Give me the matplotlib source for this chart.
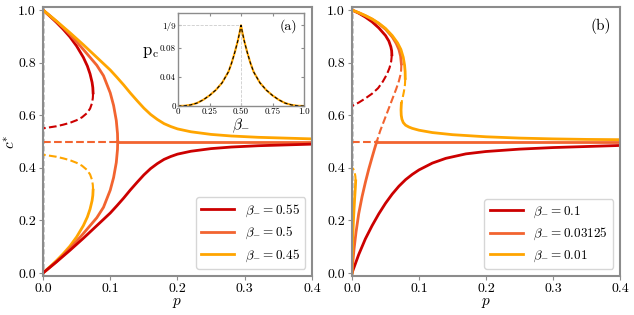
import numpy as np
import matplotlib
matplotlib.use('Agg')
import matplotlib.pyplot as plt

plt.rcParams['font.family'] = 'serif'
plt.rcParams['font.serif'] = ['cmr10', 'DejaVu Serif']
plt.rcParams['mathtext.fontset'] = 'cm'
plt.rcParams['axes.formatter.use_mathtext'] = True

# =============================
# colours
# =============================
RED = '#cc0000'
ORED = '#f26430'
ORANGE = '#ffa500'
GREY = '#8c8c8c'

# =============================
# panel (a) data
# =============================
# beta = 0.5 (pitchfork at p = 1/9)
a05_p = [0, 0.01, 0.02, 0.03, 0.04, 0.05, 0.06, 0.07, 0.08, 0.09, 0.1, 0.105, 0.109, 0.1108, 0.1111]
a05_up = [1.0, 0.979, 0.957, 0.933, 0.907, 0.879, 0.85, 0.82, 0.79, 0.75, 0.685, 0.637, 0.58, 0.53, 0.5]
a05_lo = [0.0, 0.021, 0.043, 0.067, 0.093, 0.121, 0.15, 0.18, 0.21, 0.25, 0.315, 0.363, 0.42, 0.47, 0.5]
a_pc = 0.1111

# beta = 0.55 upper branch (stable) and unstable branch
a55_up_p = [0, 0.01, 0.02, 0.03, 0.04, 0.05, 0.06, 0.066, 0.07, 0.073, 0.0741, 0.0745]
a55_up_c = [1.0, 0.977, 0.953, 0.927, 0.898, 0.863, 0.82, 0.787, 0.757, 0.725, 0.705, 0.685]
a55_un_p = [0.0745, 0.0741, 0.0728, 0.07, 0.065, 0.058, 0.05, 0.04, 0.03, 0.02, 0.01, 0]
a55_un_c = [0.685, 0.665, 0.645, 0.625, 0.607, 0.592, 0.581, 0.571, 0.564, 0.558, 0.554, 0.55]

# beta = 0.45 lower branch (stable) and unstable branch
a45_lo_p = [0, 0.01, 0.02, 0.03, 0.04, 0.05, 0.06, 0.066, 0.07, 0.073, 0.0741, 0.0745]
a45_lo_c = [0.0, 0.023, 0.047, 0.073, 0.102, 0.137, 0.18, 0.213, 0.243, 0.275, 0.295, 0.315]
a45_un_p = [0.0745, 0.0741, 0.0728, 0.07, 0.065, 0.058, 0.05, 0.04, 0.03, 0.02, 0.01, 0]
a45_un_c = [0.315, 0.335, 0.355, 0.375, 0.393, 0.408, 0.419, 0.429, 0.436, 0.442, 0.446, 0.45]

# smooth branches: beta = 0.55 from below, beta = 0.45 from above
a_sm_p = [0, 0.02, 0.04, 0.06, 0.08, 0.1, 0.11, 0.12, 0.13, 0.14, 0.15, 0.16, 0.17, 0.18, 0.19,
          0.2, 0.22, 0.25, 0.28, 0.32, 0.36, 0.4]
a55_sm_c = [0.0, 0.042, 0.086, 0.132, 0.18, 0.228, 0.256, 0.285, 0.316, 0.345, 0.373, 0.397, 0.416, 0.432, 0.443,
            0.452, 0.463, 0.473, 0.479, 0.484, 0.487, 0.49]
a45_sm_c = [1.0, 0.958, 0.914, 0.868, 0.82, 0.772, 0.744, 0.715, 0.684, 0.655, 0.627, 0.603, 0.584, 0.568, 0.557,
            0.548, 0.537, 0.527, 0.521, 0.516, 0.513, 0.51]

# =============================
# panel (b) data
# =============================
# beta = 0.1
b10_up_p = [0, 0.01, 0.02, 0.03, 0.04, 0.05, 0.055, 0.058, 0.0592, 0.0595]
b10_up_c = [1.0, 0.988, 0.973, 0.955, 0.932, 0.903, 0.882, 0.86, 0.845, 0.83]
b10_un_p = [0.0595, 0.0585, 0.056, 0.052, 0.046, 0.039, 0.03, 0.02, 0.01, 0]
b10_un_c = [0.83, 0.805, 0.78, 0.755, 0.728, 0.703, 0.682, 0.664, 0.648, 0.635]
b10_lo_p = [0, 0.01, 0.02, 0.03, 0.04, 0.05, 0.06, 0.07, 0.08, 0.09, 0.1, 0.12, 0.14, 0.17, 0.2,
            0.25, 0.3, 0.35, 0.4]
b10_lo_c = [0.0, 0.07, 0.13, 0.18, 0.225, 0.265, 0.3, 0.33, 0.355, 0.375, 0.392, 0.418, 0.436, 0.453, 0.462,
            0.471, 0.477, 0.481, 0.485]

# beta = 0.03125 (exchange of stability at p ~ 0.037)
b03_up_p = [0, 0.01, 0.02, 0.03, 0.04, 0.05, 0.06, 0.066, 0.07, 0.0725, 0.0737]
b03_up_c = [1.0, 0.99, 0.978, 0.965, 0.948, 0.927, 0.898, 0.873, 0.85, 0.825, 0.795]
b03_un_p = [0.0737, 0.0733, 0.072, 0.07, 0.066, 0.06, 0.054, 0.048, 0.042, 0.037]
b03_un_c = [0.795, 0.77, 0.75, 0.73, 0.70, 0.66, 0.62, 0.58, 0.54, 0.5]
b03_lo_p = [0, 0.001, 0.003, 0.006, 0.01, 0.015, 0.02, 0.025, 0.03, 0.034, 0.037]
b03_lo_c = [0.0, 0.035, 0.09, 0.155, 0.225, 0.29, 0.345, 0.395, 0.44, 0.475, 0.5]
b_pt = 0.037

# beta = 0.01
b01_up_p = [0, 0.01, 0.02, 0.03, 0.04, 0.05, 0.06, 0.068, 0.073, 0.0765, 0.0785, 0.0793, 0.0795]
b01_up_c = [1.0, 0.99, 0.979, 0.966, 0.95, 0.93, 0.903, 0.875, 0.85, 0.82, 0.79, 0.765, 0.74]
b01_un_p = [0.0795, 0.079, 0.0775, 0.0755, 0.0737]
b01_un_c = [0.74, 0.715, 0.69, 0.665, 0.645]
b01_mid_p = [0.0737, 0.0732, 0.0735, 0.0745, 0.0765, 0.08, 0.085, 0.09, 0.1, 0.12, 0.15, 0.2, 0.25, 0.3, 0.35, 0.4]
b01_mid_c = [0.645, 0.62, 0.6, 0.585, 0.572, 0.562, 0.555, 0.55, 0.543, 0.534, 0.526, 0.518, 0.513, 0.51, 0.508, 0.507]
b01_lo_p = [0, 0.0003, 0.001, 0.002, 0.003, 0.004, 0.005, 0.0055]
b01_lo_c = [0.0, 0.05, 0.12, 0.19, 0.24, 0.285, 0.325, 0.35]
b01_lu_p = [0.0055, 0.005, 0.004, 0.003, 0.002, 0.001, 0]
b01_lu_c = [0.35, 0.368, 0.382, 0.39, 0.395, 0.398, 0.4]

# =============================
# inset data: p_c(beta_-)
# =============================
ins_beta = [0, 0.05, 0.1, 0.15, 0.2, 0.25, 0.3, 0.35, 0.4, 0.425, 0.45, 0.475, 0.49, 0.5,
            0.51, 0.525, 0.55, 0.575, 0.6, 0.65, 0.7, 0.75, 0.8, 0.85, 0.9, 0.95, 1.0]
ins_pc = [0, 0.0003, 0.0015, 0.004, 0.0085, 0.0145, 0.022, 0.032, 0.047, 0.059, 0.0735, 0.09, 0.102, 0.1111,
          0.102, 0.09, 0.0735, 0.059, 0.047, 0.032, 0.022, 0.0145, 0.0085, 0.004, 0.0015, 0.0003, 0]

xticks = [0.0, 0.1, 0.2, 0.3, 0.4]
yticks = [0.0, 0.2, 0.4, 0.6, 0.8, 1.0]

LW = 2.0
LWD = 1.5

fig = plt.figure(figsize=(6.34, 3.15), dpi=100)
axa = fig.add_axes([0.0678, 0.125, 0.4243, 0.8515])
axb = fig.add_axes([0.5552, 0.125, 0.4227, 0.8515])


def style(ax):
    ax.set_xlim(0, 0.4)
    ax.set_ylim(-0.01, 1.01)
    ax.set_xticks(xticks)
    ax.set_yticks(yticks)
    ax.set_xticklabels([f'{v:.1f}' for v in xticks])
    ax.set_yticklabels([f'{v:.1f}' for v in yticks])
    ax.tick_params(labelsize=10, color=GREY, length=3, pad=2)
    for s in ax.spines.values():
        s.set_color(GREY)
        s.set_linewidth(1.5)
    ax.set_xlabel('$p$', fontsize=11, labelpad=1)
    ax.axvline(0, color='k', ls='--', lw=1, zorder=1)


def legend(ax, handles):
    ax.legend(handles=handles, loc='lower right', fontsize=9.5, handlelength=2.5,
              borderaxespad=0.5, labelspacing=0.45, handletextpad=0.8)


# ---- panel (a)
axa.plot([0, a_pc], [0.5, 0.5], '--', color=ORED, lw=LWD)
axa.plot([a_pc, 0.4], [0.5, 0.5], '-', color=ORED, lw=LW)
axa.plot(a55_up_p, a55_up_c, '-', color=RED, lw=LW)
axa.plot(a55_un_p, a55_un_c, '--', color=RED, lw=LWD)
axa.plot(a45_lo_p, a45_lo_c, '-', color=ORANGE, lw=LW)
axa.plot(a45_un_p, a45_un_c, '--', color=ORANGE, lw=LWD)
axa.plot(a05_p, a05_up, '-', color=ORED, lw=LW)
axa.plot(a05_p, a05_lo, '-', color=ORED, lw=LW)
axa.plot(a_sm_p, a45_sm_c, '-', color=ORANGE, lw=LW)
axa.plot(a_sm_p, a55_sm_c, '-', color=RED, lw=LW)
style(axa)
axa.set_ylabel('$c^{*}$', fontsize=11, labelpad=0)

h1, = axa.plot([], [], color=RED, lw=LW, label=r'$\beta_{-}=0.55$')
h2, = axa.plot([], [], color=ORED, lw=LW, label=r'$\beta_{-}=0.5$')
h3, = axa.plot([], [], color=ORANGE, lw=LW, label=r'$\beta_{-}=0.45$')
legend(axa, [h1, h2, h3])

# ---- panel (b)
axb.plot([0, b_pt], [0.5, 0.5], '--', color=ORED, lw=LWD)
axb.plot([b_pt, 0.4], [0.5, 0.5], '-', color=ORED, lw=LW)
axb.plot(b10_up_p, b10_up_c, '-', color=RED, lw=LW)
axb.plot(b10_un_p, b10_un_c, '--', color=RED, lw=LWD)
axb.plot(b10_lo_p, b10_lo_c, '-', color=RED, lw=LW)
axb.plot(b03_up_p, b03_up_c, '-', color=ORED, lw=LW)
axb.plot(b03_un_p, b03_un_c, '--', color=ORED, lw=LWD)
axb.plot(b03_lo_p, b03_lo_c, '-', color=ORED, lw=LW)
axb.plot(b01_up_p, b01_up_c, '-', color=ORANGE, lw=LW)
axb.plot(b01_un_p, b01_un_c, '--', color=ORANGE, lw=LWD)
axb.plot(b01_mid_p, b01_mid_c, '-', color=ORANGE, lw=LW)
axb.plot(b01_lo_p, b01_lo_c, '-', color=ORANGE, lw=LW)
axb.plot(b01_lu_p, b01_lu_c, '--', color=ORANGE, lw=LWD)
style(axb)
axb.text(0.93, 0.93, '(b)', transform=axb.transAxes, fontsize=11, ha='center', va='center')

g1, = axb.plot([], [], color=RED, lw=LW, label=r'$\beta_{-}=0.1$')
g2, = axb.plot([], [], color=ORED, lw=LW, label=r'$\beta_{-}=0.03125$')
g3, = axb.plot([], [], color=ORANGE, lw=LW, label=r'$\beta_{-}=0.01$')
legend(axb, [g1, g2, g3])

# ---- inset
axi = fig.add_axes([0.2808, 0.6635, 0.1987, 0.2952])
axi.plot([0, 0.5], [1 / 9, 1 / 9], '--', color='#cccccc', lw=0.6)
axi.plot([0.5, 0.5], [0, 1 / 9], '--', color='#cccccc', lw=0.6)
axi.plot(ins_beta, ins_pc, '-', color=ORANGE, lw=1.5)
axi.plot(ins_beta, ins_pc, '--', color='k', lw=0.8, dashes=(3, 2))
axi.set_xlim(0, 1)
axi.set_ylim(0, 0.128)
axi.set_xticks([0, 0.25, 0.5, 0.75, 1.0])
axi.set_xticklabels(['0', '0.25', '0.50', '0.75', '1.0'])
axi.set_yticks([0, 0.04, 0.08, 1 / 9])
axi.set_yticklabels(['0', '0.04', '0.08', '1/9'])
axi.tick_params(labelsize=6.5, direction='in', length=2.5, top=True, right=True, pad=1.5, color=GREY)
for s in axi.spines.values():
    s.set_color(GREY)
    s.set_linewidth(1.0)
axi.set_ylabel(r'$\mathrm{p_c}$', fontsize=12, rotation=0, labelpad=7)
axi.set_xlabel(r'$\beta_{-}$', fontsize=11, labelpad=0)
axi.text(0.88, 0.86, '(a)', transform=axi.transAxes, fontsize=10, ha='center', va='center')

fig.savefig('out.png', dpi=100)
